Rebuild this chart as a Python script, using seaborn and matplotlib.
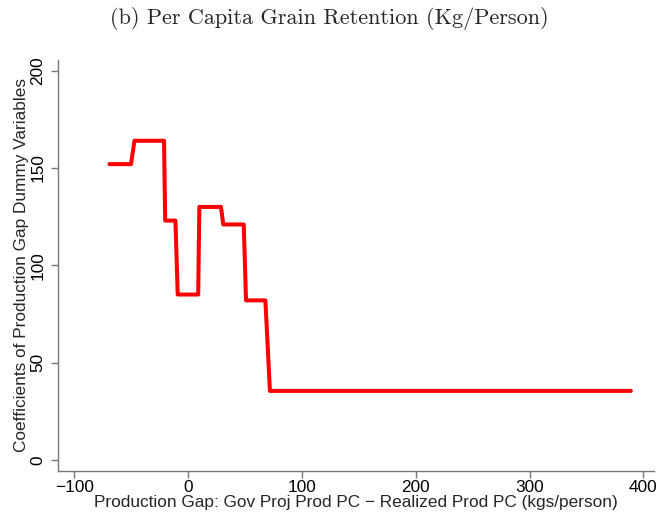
import numpy as np
import pandas as pd
import matplotlib
matplotlib.use("Agg")
import matplotlib.pyplot as plt
import seaborn as sns

# step vertices (gap in kg/person, coefficient)
gap_pts  = [-69, -50, -47, -21, -20, -11, -9, 9, 10, 29, 31, 49, 51, 68, 72, 389]
coef_pts = [152, 152, 164, 164, 123, 123, 85, 85, 130, 130, 121, 121, 82, 82, 35.5, 35.5]

x_ticks = [-100, 0, 100, 200, 300, 400]
y_ticks = [0, 50, 100, 150, 200]

title  = "(b) Per Capita Grain Retention (Kg/Person)"
xlabel = "Production Gap: Gov Proj Prod PC \u2212 Realized Prod PC (kgs/person)"
ylabel = "Coefficients of Production Gap Dummy Variables"

df = pd.DataFrame({"gap": gap_pts, "coef": coef_pts})

sns.set_style("white")
plt.rcParams["font.family"] = ["Liberation Sans", "DejaVu Sans"]

fig = plt.figure(figsize=(6.58, 5.19), dpi=100)
ax = fig.add_axes([0.0877, 0.0931, 0.9067, 0.7913])

sns.lineplot(data=df, x="gap", y="coef", sort=False, estimator=None,
             color="#ff0000", lw=2.9, ax=ax)

ax.set_xlim(-114.4, 409.6)
ax.set_ylim(-5.5, 205.5)
ax.set_xticks(x_ticks)
ax.set_yticks(y_ticks)
ax.set_xticklabels([str(t).replace("-", "\u2212") for t in x_ticks], fontsize=12.4)
ax.set_yticklabels([str(t) for t in y_ticks], fontsize=12.4, rotation=90, va="center")

for s in ["top", "right"]:
    ax.spines[s].set_visible(False)
for s in ["left", "bottom"]:
    ax.spines[s].set_color("#777777")
    ax.spines[s].set_linewidth(1.0)
ax.tick_params(axis="both", direction="out", length=5, width=1, color="#777777",
               labelcolor="black", bottom=True, left=True)
ax.tick_params(axis="x", pad=2)
ax.tick_params(axis="y", pad=4)

ax.set_xlabel(xlabel, fontsize=12.4, labelpad=0)
ax.set_ylabel(ylabel, fontsize=12.4, labelpad=1)

fig.text(0.5, 1 - 18 / 519, title, ha="center", va="center",
         fontsize=16, family=["cmr10", "DejaVu Serif"])

fig.savefig("out.png", dpi=100)
